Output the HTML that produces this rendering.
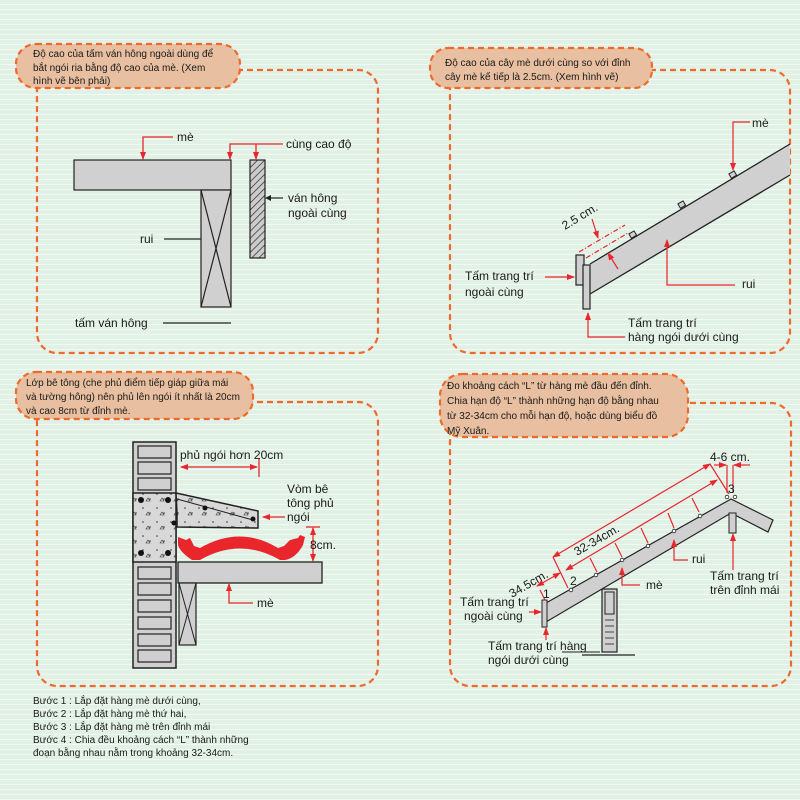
<!DOCTYPE html>
<html><head><meta charset="utf-8"><style>
body{margin:0;width:800px;height:800px;overflow:hidden;background:repeating-linear-gradient(180deg,#e2f1e6 0,#e2f1e6 4px,#f1f9f3 4px,#f1f9f3 5px);}
svg{position:absolute;left:0;top:0}
text{font-family:"Liberation Sans","DejaVu Sans",sans-serif;fill:#1a1a1a}
.p{font-size:10px}
.l{font-size:12px}
</style></head><body>
<svg width="800" height="800" viewBox="0 0 800 800">
<defs>
<marker id="a" markerWidth="8" markerHeight="8" refX="7" refY="4" orient="auto" markerUnits="userSpaceOnUse"><path d="M0,1 L8,4 L0,7Z" fill="#e8262b"/></marker>
<marker id="b" markerWidth="8" markerHeight="8" refX="1" refY="4" orient="auto" markerUnits="userSpaceOnUse"><path d="M8,1 L0,4 L8,7Z" fill="#e8262b"/></marker>
<pattern id="h" width="5" height="5" patternUnits="userSpaceOnUse" patternTransform="rotate(45)"><rect width="5" height="5" fill="#ccc"/><line x1="0" y1="0" x2="0" y2="5" stroke="#333" stroke-width="1.5"/></pattern>
<pattern id="c" width="14" height="14" patternUnits="userSpaceOnUse"><rect width="14" height="14" fill="#d8d8d8"/><circle cx="3" cy="4" r=".8" fill="#333"/><circle cx="10" cy="9" r=".8" fill="#333"/><path d="M6,11 l2,-3 l2,3z" fill="none" stroke="#333" stroke-width=".6"/></pattern>
</defs>
<g fill="none" stroke="#ef6a2a" stroke-width="2.2" stroke-dasharray="6,4">
<rect x="37" y="70" width="341" height="283" rx="20"/>
<rect x="450" y="70" width="340" height="283" rx="20"/>
<rect x="37" y="402" width="341" height="284" rx="20"/>
<rect x="450" y="403" width="341" height="283" rx="20"/>
</g>
<g fill="#e8bfa0" stroke="#ef6a2a" stroke-width="2.2" stroke-dasharray="6,4">
<rect x="16" y="44" width="224" height="44" rx="20"/>
<rect x="430" y="48" width="222" height="40" rx="18"/>
<rect x="16" y="372" width="237" height="47" rx="20"/>
<rect x="440" y="374" width="248" height="63" rx="22"/>
</g>
<text class="p" x="33" y="57">Độ cao của tấm ván hông ngoài dùng để</text>
<text class="p" x="33" y="71">bắt ngói ria bằng độ cao của mè. (Xem</text>
<text class="p" x="33" y="84">hình vẽ bên phải)</text>
<text class="p" x="445" y="66">Độ cao của cây mè dưới cùng so với đỉnh</text>
<text class="p" x="445" y="80">cây mè kế tiếp là 2.5cm. (Xem hình vẽ)</text>
<text class="p" x="26" y="386">Lớp bê tông (che phủ điểm tiếp giáp giữa mái</text>
<text class="p" x="26" y="400">và tường hông) nên phủ lên ngói ít nhất là 20cm</text>
<text class="p" x="26" y="414">và cao 8cm từ đỉnh mè.</text>
<text class="p" x="447" y="389">Đo khoảng cách “L” từ hàng mè đầu đến đỉnh.</text>
<text class="p" x="447" y="404">Chia hạn độ “L” thành những hạn độ bằng nhau</text>
<text class="p" x="447" y="419">từ 32-34cm cho mỗi hạn độ, hoặc dùng biểu đồ</text>
<text class="p" x="447" y="434">Mỹ Xuân.</text>

<!-- Panel 1 -->
<g stroke="#222" stroke-width="1.2">
<rect x="74" y="160" width="157" height="30" fill="#d0d0d0"/>
<rect x="201" y="190" width="30" height="117" fill="#d0d0d0"/>
<line x1="201" y1="190" x2="231" y2="307"/><line x1="231" y1="190" x2="201" y2="307"/>
<rect x="250" y="160" width="15" height="98" fill="url(#h)"/>
<line x1="164" y1="239" x2="201" y2="239"/>
<line x1="163" y1="323" x2="231" y2="323"/>
<line x1="270" y1="198" x2="283" y2="198"/>
</g>
<path d="M265,198 l6,-3 v6z" fill="#222"/>
<g stroke="#e8262b" stroke-width="1.3" fill="none">
<polyline points="173,137 143,137 143,159" marker-end="url(#a)"/>
<polyline points="283,144 230,144 230,159" marker-end="url(#a)"/>
<line x1="256" y1="144" x2="256" y2="159" marker-end="url(#a)"/>
</g>
<text class="l" x="177" y="141">mè</text>
<text class="l" x="286" y="148">cùng cao độ</text>
<text class="l" x="288" y="202">ván hông</text>
<text class="l" x="288" y="217">ngoài cùng</text>
<text class="l" x="140" y="243">rui</text>
<text class="l" x="75" y="327">tấm ván hông</text>

<!-- Panel 2 -->
<polygon points="590,264 790,144 790,175 590,294" fill="#d0d0d0"/>
<line x1="590" y1="264" x2="790" y2="144" stroke="#222" stroke-width="1.3"/>
<line x1="590" y1="294" x2="790" y2="175" stroke="#222" stroke-width="1.3"/>
<rect x="576" y="255" width="8" height="30" fill="#d0d0d0" stroke="#222" stroke-width="1.2"/>
<rect x="583" y="265" width="7" height="44" fill="#d0d0d0" stroke="#222" stroke-width="1.2"/>
<g fill="#d0d0d0" stroke="#222" stroke-width="1">
<rect x="630" y="232" width="6" height="5" transform="rotate(-31 633 235)"/>
<rect x="679" y="202" width="6" height="5" transform="rotate(-31 682 205)"/>
<rect x="730" y="172" width="6" height="5" transform="rotate(-31 733 175)"/>
</g>
<g stroke="#e8262b" stroke-width="1.2" fill="none">
<line x1="579" y1="252" x2="625" y2="225" stroke-dasharray="5,2,1,2"/>
<line x1="586" y1="258" x2="628" y2="233" stroke-dasharray="5,2,1,2"/>
<line x1="592" y1="219" x2="598" y2="238" marker-end="url(#a)"/>
<line x1="618" y1="269" x2="608" y2="253" marker-end="url(#a)"/>
<polyline points="750,122 733,122 733,170" marker-end="url(#a)"/>
<polyline points="735,285 667,285 667,240" marker-end="url(#a)"/>
<line x1="545" y1="277" x2="574" y2="277" marker-end="url(#a)"/>
<polyline points="625,337 588,337 588,313" marker-end="url(#a)"/>
</g>
<text class="l" x="0" y="0" transform="translate(565,230) rotate(-31)">2.5 cm.</text>
<text class="l" x="752" y="127">mè</text>
<text class="l" x="742" y="288">rui</text>
<text class="l" x="465" y="280">Tấm trang trí</text>
<text class="l" x="465" y="296">ngoài cùng</text>
<text class="l" x="628" y="327">Tấm trang trí</text>
<text class="l" x="628" y="341">hàng ngói dưới cùng</text>

<!-- Panel 3 -->
<rect x="133" y="442" width="43" height="226" fill="#d0d0d0" stroke="#222" stroke-width="1.5"/>
<g fill="#d0d0d0" stroke="#222" stroke-width="1.2">
<rect x="138" y="446" width="33" height="12"/><rect x="138" y="462" width="33" height="12"/><rect x="138" y="478" width="33" height="12"/>
<rect x="138" y="567" width="33" height="12"/><rect x="138" y="583" width="33" height="12"/><rect x="138" y="600" width="33" height="12"/>
<rect x="138" y="617" width="33" height="12"/><rect x="138" y="634" width="33" height="12"/><rect x="138" y="650" width="33" height="12"/>
</g>
<rect x="133" y="493" width="43" height="69" fill="url(#c)" stroke="#222" stroke-width="1.5"/>
<polygon points="176,493 258,511 258,528 177,527 177,513" fill="url(#c)" stroke="#222" stroke-width="1.5"/>
<line x1="177" y1="499" x2="253" y2="520" stroke="#222" stroke-width="1"/>
<g fill="#111"><circle cx="141" cy="500" r="3"/><circle cx="168" cy="500" r="3"/><circle cx="141" cy="553" r="3"/><circle cx="168" cy="553" r="3"/><circle cx="205" cy="508" r="2.5"/><circle cx="253" cy="519" r="2.5"/><circle cx="174" cy="523" r="2.5"/></g>
<path d="M178,537 L186,540 L190,538 L194,546 L200,548 Q240,525 278,548 L284,546 L290,540 L298,538 L300,535 L305,537 L303,545 Q296,558 285,560 L280,560 Q240,537 200,560 L192,560 Q180,552 178,545 Z" fill="#e8262b"/>
<rect x="178" y="562" width="144" height="21" fill="#d0d0d0" stroke="#222" stroke-width="1.3"/>
<rect x="179" y="583" width="17" height="62" fill="#d0d0d0" stroke="#222" stroke-width="1.2"/>
<line x1="179" y1="583" x2="196" y2="645" stroke="#222"/><line x1="196" y1="583" x2="179" y2="645" stroke="#222"/>
<g stroke="#e8262b" stroke-width="1.3" fill="none">
<line x1="220" y1="467" x2="181" y2="467" marker-end="url(#a)"/>
<line x1="220" y1="467" x2="257" y2="467" marker-end="url(#a)"/>
<line x1="259" y1="458" x2="259" y2="477"/>
<line x1="285" y1="517" x2="263" y2="517" marker-end="url(#a)"/>
<line x1="306" y1="527" x2="320" y2="527"/>
<line x1="313" y1="543" x2="313" y2="528" marker-end="url(#a)"/>
<line x1="313" y1="543" x2="313" y2="561" marker-end="url(#a)"/>
<polyline points="253,603 229,603 229,584" marker-end="url(#a)"/>
</g>
<text class="l" x="180" y="459">phủ ngói hơn 20cm</text>
<text class="l" x="287" y="493">Vòm bê</text>
<text class="l" x="287" y="507">tông phủ</text>
<text class="l" x="287" y="521">ngói</text>
<text class="l" x="310" y="549">8cm.</text>
<text class="l" x="257" y="607">mè</text>

<!-- Panel 4 -->
<rect x="602" y="589" width="15" height="63" fill="#d0d0d0" stroke="#222" stroke-width="1.2"/>
<rect x="605" y="592" width="9" height="22" fill="none" stroke="#222"/>
<g stroke="#222" stroke-width=".8"><line x1="605" y1="620" x2="614" y2="620"/><line x1="605" y1="626" x2="614" y2="626"/><line x1="605" y1="632" x2="614" y2="632"/><line x1="605" y1="638" x2="614" y2="638"/><line x1="605" y1="644" x2="614" y2="644"/></g>
<line x1="582" y1="655" x2="635" y2="655" stroke="#222" stroke-width="1.2"/>
<polygon points="546,603 731,499 773,520 768,532 731,513 546,622" fill="#d0d0d0" stroke="#222" stroke-width="1.2"/>
<rect x="729" y="513" width="7" height="20" fill="#d0d0d0" stroke="#222"/>
<rect x="542" y="600" width="5" height="27" fill="#d0d0d0" stroke="#222"/>
<g fill="#fff" stroke="#222" stroke-width=".8">
<circle cx="571" cy="590" r="1.8"/><circle cx="596" cy="575" r="1.8"/><circle cx="622" cy="560" r="1.8"/><circle cx="648" cy="546" r="1.8"/><circle cx="674" cy="531" r="1.8"/><circle cx="700" cy="516" r="1.8"/><circle cx="727" cy="497" r="1.8"/><circle cx="735" cy="497" r="1.8"/>
</g>
<g stroke="#e8262b" stroke-width="1.2" fill="none">
<line x1="553" y1="557" x2="710" y2="464" marker-start="url(#b)" marker-end="url(#a)"/>
<line x1="537" y1="586" x2="560" y2="573" marker-start="url(#b)" marker-end="url(#a)"/>
<line x1="566" y1="570" x2="717" y2="480" marker-start="url(#b)" marker-end="url(#a)"/>
<line x1="540" y1="590" x2="545" y2="600"/>
<line x1="553" y1="557" x2="568" y2="588"/>
<line x1="590" y1="558" x2="597" y2="572"/>
<line x1="615" y1="543" x2="622" y2="557"/>
<line x1="641" y1="528" x2="648" y2="543"/>
<line x1="668" y1="513" x2="674" y2="528"/>
<line x1="692" y1="498" x2="699" y2="512"/>
<line x1="710" y1="464" x2="729" y2="494"/>
<line x1="727" y1="465" x2="727" y2="493"/>
<line x1="733" y1="465" x2="733" y2="493"/>
<line x1="714" y1="465" x2="726" y2="465" marker-end="url(#a)"/>
<line x1="750" y1="465" x2="734" y2="465" marker-end="url(#a)"/>
<line x1="529" y1="612" x2="541" y2="612" marker-end="url(#a)"/>
<line x1="546" y1="640" x2="546" y2="628" marker-end="url(#a)"/>
<polyline points="640,585 622,585 622,568" marker-end="url(#a)"/>
<polyline points="688,560 674,560 674,540" marker-end="url(#a)"/>
<line x1="733" y1="570" x2="733" y2="534" marker-end="url(#a)"/>
</g>
<line x1="562" y1="652" x2="600" y2="652" stroke="#222"/>
<text class="l" x="0" y="0" transform="translate(512,598) rotate(-30)">34.5cm.</text>
<text class="l" x="0" y="0" transform="translate(577,556) rotate(-30)">32-34cm.</text>
<text class="l" x="710" y="461">4-6 cm.</text>
<text class="l" x="543" y="598">1</text>
<text class="l" x="570" y="585">2</text>
<text class="l" x="728" y="493">3</text>
<text class="l" x="460" y="606">Tấm trang trí</text>
<text class="l" x="464" y="620">ngoài cùng</text>
<text class="l" x="488" y="650">Tấm trang trí hàng</text>
<text class="l" x="488" y="664">ngói dưới cùng</text>
<text class="l" x="646" y="589">mè</text>
<text class="l" x="692" y="563">rui</text>
<text class="l" x="710" y="580">Tấm trang trí</text>
<text class="l" x="710" y="594">trên đỉnh mái</text>

<text class="p" x="33" y="704">Bước 1 : Lắp đặt hàng mè dưới cùng,</text>
<text class="p" x="33" y="717">Bước 2 : Lắp đặt hàng mè thứ hai,</text>
<text class="p" x="33" y="730">Bước 3 : Lắp đặt hàng mè trên đỉnh mái</text>
<text class="p" x="33" y="743">Bước 4 : Chia đều khoảng cách “L” thành những</text>
<text class="p" x="33" y="756">đoạn bằng nhau nằm trong khoảng 32-34cm.</text>
</svg>
</body></html>
